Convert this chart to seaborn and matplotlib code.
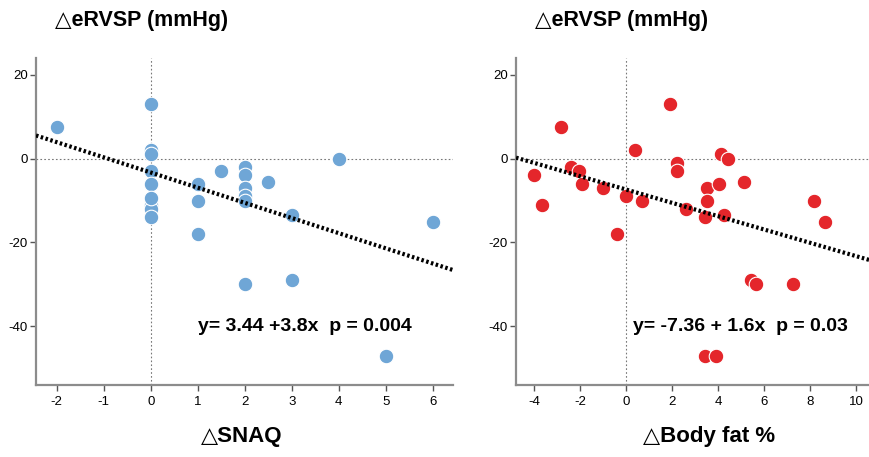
import matplotlib
matplotlib.use('Agg')
import matplotlib.pyplot as plt
import numpy as np
import pandas as pd
import seaborn as sns

# Left panel: change in SNAQ vs change in eRVSP
snaq_x = [-2, 0, 0, 0, 0, 0, 0, 0, 0, 0,
          1, 1, 1, 1.5, 2, 2, 2, 2, 2, 2,
          2.5, 3, 3, 4, 5, 6]
snaq_y = [7.6, 13, 2, 1, -3, -6, -11, -12, -14, -9.5,
          -6, -10, -18, -3, -2, -4, -7, -9, -10, -30,
          -5.6, -13.5, -29, 0, -47, -15]
snaq_fit = (-3.3, -3.62)          # intercept, slope of drawn line
snaq_text = 'y= 3.44 +3.8x  p = 0.004'

# Right panel: change in body fat % vs change in eRVSP
fat_x = [-3.98, -3.63, -2.82, -2.4, -2.06, -1.9, -1.0, -0.39, 0.01, 0.39,
         0.69, 1.9, 2.2, 2.2, 2.6, 3.42, 3.52, 3.52, 3.42, 3.93,
         4.02, 4.12, 4.24, 4.43, 5.13, 5.44, 5.64, 7.24, 8.16, 8.65]
fat_y = [-4, -11, 7.6, -2, -3, -6, -7, -18, -9, 2,
         -10, 13, -1, -3, -12, -14, -7, -10, -47, -47,
         -6, 1, -13.5, 0, -5.6, -29, -30, -30, -10, -15]
fat_fit = (-7.36, -1.59)
fat_text = 'y= -7.36 + 1.6x  p = 0.03'

y_title = '\u25b3eRVSP (mmHg)'
x_titles = ['\u25b3SNAQ', '\u25b3Body fat %']

sns.set_style('white')
plt.rcParams['font.family'] = ['Liberation Sans', 'DejaVu Sans']
plt.rcParams['axes.unicode_minus'] = False
plt.rcParams['text.color'] = 'black'
plt.rcParams['xtick.labelcolor'] = 'black'
plt.rcParams['ytick.labelcolor'] = 'black'

fig = plt.figure(figsize=(8.69, 4.57), dpi=100)
ax1 = fig.add_axes([0.0414, 0.1575, 0.48, 0.7155])
ax2 = fig.add_axes([0.5938, 0.1575, 0.41, 0.7155])

panels = [
    (ax1, snaq_x, snaq_y, snaq_fit, snaq_text, '#6FA6D6', (-2.44, 6.43), range(-2, 7), 1.0),
    (ax2, fat_x, fat_y, fat_fit, fat_text, '#E4262B', (-4.78, 10.7), range(-4, 11, 2), 0.3),
]

for ax, xs, ys, fit, txt, col, xlim, xt, tx in panels:
    df = pd.DataFrame({'x': xs, 'y': ys})
    ax.axhline(0, color='#777777', lw=0.8, ls=(0, (1.5, 2)), zorder=1)
    ax.axvline(0, color='#777777', lw=0.8, ls=(0, (1.5, 2)), zorder=1)
    sns.scatterplot(data=df, x='x', y='y', ax=ax, color=col, s=110,
                    edgecolor='white', linewidth=0.8, zorder=3)
    ax.axline((0, fit[0]), slope=fit[1], color='black', lw=3,
              ls=(0, (0.6, 0.6)), zorder=4)
    ax.text(tx, -40, txt, fontsize=14, fontweight='bold', va='center', zorder=5)
    ax.set_xlim(*xlim)
    ax.set_ylim(-54, 24)
    ax.set_xticks(list(xt))
    ax.set_yticks([-40, -20, 0, 20])
    ax.set_xlabel('')
    ax.set_ylabel('')
    sns.despine(ax=ax)
    for s in ['left', 'bottom']:
        ax.spines[s].set_color('#8c8c8c')
        ax.spines[s].set_linewidth(1.6)
    ax.tick_params(axis='both', direction='out', length=4, width=1,
                   color='#555555', labelsize=9.5, pad=2, bottom=True, left=True)
    ax.tick_params(axis='x', pad=4)

fig.text(0.063, 0.955, y_title, fontsize=15.5, fontweight='bold', va='center')
fig.text(0.616, 0.955, y_title, fontsize=15.5, fontweight='bold', va='center')
fig.text(0.278, 0.045, x_titles[0], fontsize=16, fontweight='bold', ha='center', va='center')
fig.text(0.816, 0.045, x_titles[1], fontsize=16, fontweight='bold', ha='center', va='center')

fig.savefig('out.png', dpi=100)
